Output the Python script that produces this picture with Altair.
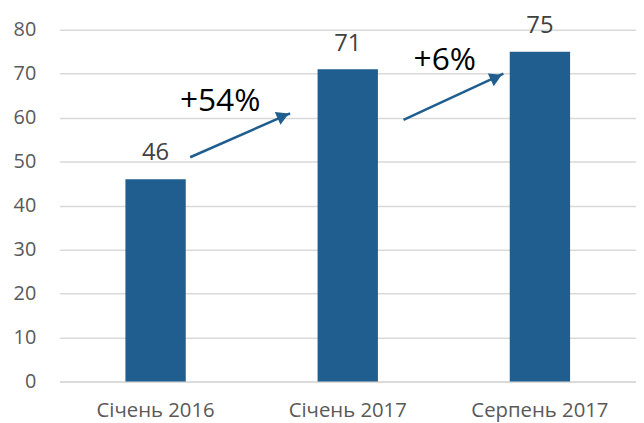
import altair as alt
import pandas as pd

categories = ["Січень 2016", "Січень 2017", "Серпень 2017"]
values = [46, 71, 75]

# annotation arrows (position along category axis 0..3, value axis)
arrow_x = [0.68, 1.79]
arrow_y = [51, 59.5]
arrow_x2 = [1.20, 2.31]
arrow_y2 = [61, 70]
head_x = [1.164, 2.273]
head_y = [60.4, 69.2]
head_angle = [66, 65]

ann_text = ["+54%", "+6%"]
ann_x = [0.836, 2.005]
ann_y = [63.7, 73]

BAR = "#1f5e8e"
FONT = "Open Sans"

bars_df = pd.DataFrame({"cat": categories, "val": values})
arrows_df = pd.DataFrame({"x": arrow_x, "y": arrow_y, "x2": arrow_x2, "y2": arrow_y2})
heads_df = pd.DataFrame({"x": head_x, "y": head_y, "a": head_angle})
ann_df = pd.DataFrame({"t": ann_text, "x": ann_x, "y": ann_y})

yscale = alt.Scale(domain=[0, 80])
yaxis = alt.Axis(values=list(range(0, 81, 10)))
xscale = alt.Scale(paddingInner=0.686, paddingOuter=0.343)
xband = alt.X("cat:N", sort=categories, title=None, scale=xscale,
              axis=alt.Axis(labelAngle=0, labelFont=FONT, labelFontSize=20.5,
                            labelColor="#595959", ticks=False, domain=True,
                            domainColor="#d9d9d9", domainWidth=1.5,
                            labelBaseline="alphabetic", labelPadding=35))

bars = alt.Chart(bars_df).mark_bar(color=BAR).encode(
    x=xband, y=alt.Y("val:Q", scale=yscale, title=None, axis=yaxis))
labels = alt.Chart(bars_df).mark_text(dy=-19, baseline="alphabetic", font=FONT,
                                      fontSize=24, color="#404040").encode(
    x=alt.X("cat:N", sort=categories, scale=xscale, title=None),
    y=alt.Y("val:Q", scale=yscale, title=None, axis=yaxis),
    text="val:Q")

xq = alt.Scale(domain=[0, 3])
lines = alt.Chart(arrows_df).mark_rule(color=BAR, strokeWidth=2.5).encode(
    x=alt.X("x:Q", scale=xq, axis=None), x2="x2:Q",
    y=alt.Y("y:Q", scale=yscale, title=None, axis=yaxis), y2="y2:Q")
heads = alt.Chart(heads_df).mark_point(shape="triangle-up", filled=True,
                                       color=BAR, opacity=1, size=200).encode(
    x=alt.X("x:Q", scale=xq, axis=None),
    y=alt.Y("y:Q", scale=yscale, title=None, axis=yaxis),
    angle=alt.Angle("a:Q", scale=None))
texts = alt.Chart(ann_df).mark_text(font=FONT, fontSize=32, color="#000000",
                                    baseline="middle").encode(
    x=alt.X("x:Q", scale=xq, axis=None),
    y=alt.Y("y:Q", scale=yscale, title=None, axis=yaxis),
    text="t:N")

chart = alt.layer(alt.layer(bars, labels), alt.layer(lines, heads, texts)).resolve_scale(
    x="independent").properties(
    width=582, height=355,
    autosize=alt.AutoSizeParams(type="none"),
    padding={"left": 52, "top": 20, "right": 0, "bottom": 40},
).configure_view(stroke=None).configure_axisY(
    labelFont=FONT, labelFontSize=20, labelColor="#595959", ticks=False,
    domain=False, grid=True, gridColor="#d9d9d9", gridWidth=1.5,
    labelPadding=24)

chart.save("out.html", embed_options={"renderer": "svg", "actions": False})
